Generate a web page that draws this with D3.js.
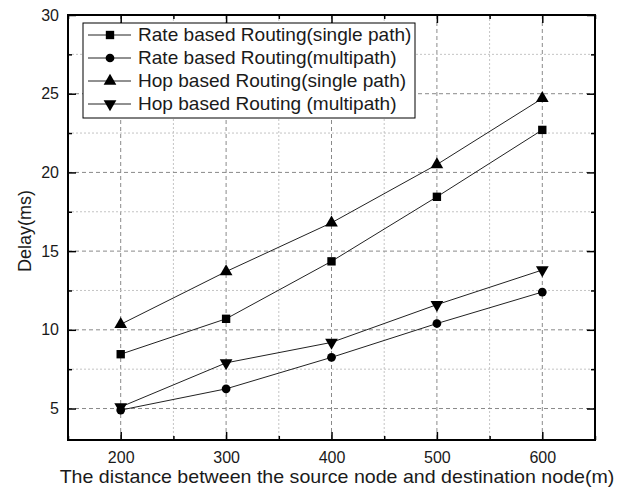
<!DOCTYPE html>
<html>
<head>
<meta charset="utf-8">
<script src="https://cdn.jsdelivr.net/npm/d3@7"></script>
<style>
  html, body { margin: 0; padding: 0; background: #fff; }
  svg { display: block; }
  text { font-family: "Liberation Sans", Arial, sans-serif; fill: #1a1a1a; }
</style>
</head>
<body>
<svg id="chart" width="619" height="493"></svg>
<script>
// ---- data ----
const distances = [200, 300, 400, 500, 600];
const seriesNames = [
  "Rate based Routing(single path)",
  "Rate based Routing(multipath)",
  "Hop based Routing(single path)",
  "Hop based Routing (multipath)"
];
const rateSingle = [8.45, 10.7, 14.35, 18.45, 22.7];
const rateMulti  = [4.9, 6.25, 8.25, 10.4, 12.4];
const hopSingle  = [10.35, 13.7, 16.8, 20.5, 24.7];
const hopMulti   = [5.1, 7.9, 9.2, 11.6, 13.8];
const markerKinds = ["square", "circle", "triangle", "triangleDown"];
const xTickLabels = [200, 300, 400, 500, 600];
const yTickLabels = [5, 10, 15, 20, 25, 30];
const xMinorTicks = [150, 250, 350, 450, 550, 650];
const yMinorTicks = [7.5, 12.5, 17.5, 22.5, 27.5];
const xTitle = "The distance between the source node and destination node(m)";
const yTitle = "Delay(ms)";

const seriesValues = [rateSingle, rateMulti, hopSingle, hopMulti];

// ---- layout ----
const svg = d3.select("#chart");
const L = 68, R = 595, T = 15, B = 440;
const x = d3.scaleLinear().domain([150, 650]).range([L, R]);
const y = d3.scaleLinear().domain([3, 30]).range([B, T]);

// grid
const grid = svg.append("g");
grid.selectAll(".gxMaj").data(xTickLabels).enter().append("line")
  .attr("x1", d => x(d)).attr("x2", d => x(d)).attr("y1", T).attr("y2", B)
  .attr("stroke", "#8a8a8a").attr("stroke-width", 1).attr("stroke-dasharray", "4,3");
grid.selectAll(".gxMin").data(xMinorTicks.filter(d => d > 150 && d < 650)).enter().append("line")
  .attr("x1", d => x(d)).attr("x2", d => x(d)).attr("y1", T).attr("y2", B)
  .attr("stroke", "#c4c4c4").attr("stroke-width", 1).attr("stroke-dasharray", "2,2");
grid.selectAll(".gyMaj").data(yTickLabels.filter(d => d < 30)).enter().append("line")
  .attr("y1", d => y(d)).attr("y2", d => y(d)).attr("x1", L).attr("x2", R)
  .attr("stroke", "#8a8a8a").attr("stroke-width", 1).attr("stroke-dasharray", "4,3");
grid.selectAll(".gyMin").data(yMinorTicks).enter().append("line")
  .attr("y1", d => y(d)).attr("y2", d => y(d)).attr("x1", L).attr("x2", R)
  .attr("stroke", "#c4c4c4").attr("stroke-width", 1).attr("stroke-dasharray", "2,2");

// axes (inward ticks)
function addAxis(axis, tr, labels) {
  const g = svg.append("g").attr("transform", tr).call(axis);
  g.select(".domain").remove();
  g.selectAll("line").attr("stroke", "#000").attr("stroke-width", 1.5);
  g.selectAll("text").style("font-size", "16px").attr("fill", "#222");
  if (!labels) g.selectAll("text").remove();
  return g;
}
// major
addAxis(d3.axisBottom(x).tickValues(xTickLabels).tickSizeInner(-8).tickSizeOuter(0).tickPadding(12).tickFormat(d3.format("d")),
  `translate(0,${B})`, true);
addAxis(d3.axisTop(x).tickValues(xTickLabels).tickSizeInner(-8).tickSizeOuter(0),
  `translate(0,${T})`, false);
addAxis(d3.axisLeft(y).tickValues(yTickLabels).tickSizeInner(-8).tickSizeOuter(0).tickPadding(9).tickFormat(d3.format("d")),
  `translate(${L},0)`, true);
addAxis(d3.axisRight(y).tickValues(yTickLabels).tickSizeInner(-8).tickSizeOuter(0),
  `translate(${R},0)`, false);
// minor
addAxis(d3.axisBottom(x).tickValues(xMinorTicks).tickSizeInner(-4).tickSizeOuter(0), `translate(0,${B})`, false);
addAxis(d3.axisTop(x).tickValues(xMinorTicks).tickSizeInner(-4).tickSizeOuter(0), `translate(0,${T})`, false);
addAxis(d3.axisLeft(y).tickValues(yMinorTicks).tickSizeInner(-4).tickSizeOuter(0), `translate(${L},0)`, false);
addAxis(d3.axisRight(y).tickValues(yMinorTicks).tickSizeInner(-4).tickSizeOuter(0), `translate(${R},0)`, false);

// frame
svg.append("rect").attr("x", L).attr("y", T).attr("width", R - L).attr("height", B - T)
  .attr("fill", "none").attr("stroke", "#000").attr("stroke-width", 2);

// symbols
function symbolPath(kind) {
  if (kind === "square") return d3.symbol(d3.symbolSquare, 70)();
  if (kind === "circle") return d3.symbol(d3.symbolCircle, 60)();
  return d3.symbol(d3.symbolTriangle, 70)();
}
function symTransform(kind, cx, cy) {
  return kind === "triangleDown" ? `translate(${cx},${cy}) rotate(180)` : `translate(${cx},${cy})`;
}

const line = d3.line().x((d, i) => x(distances[i])).y(d => y(d));
seriesValues.forEach((vals, si) => {
  svg.append("path").datum(vals).attr("d", line)
    .attr("fill", "none").attr("stroke", "#222").attr("stroke-width", 1);
  svg.selectAll(null).data(vals).enter().append("path")
    .attr("d", symbolPath(markerKinds[si]))
    .attr("transform", (d, i) => symTransform(markerKinds[si], x(distances[i]), y(d)))
    .attr("fill", "#000");
});

// legend
const lg = svg.append("g");
lg.append("rect").attr("x", 83).attr("y", 23).attr("width", 332).attr("height", 95)
  .attr("fill", "#fff").attr("stroke", "#000").attr("stroke-width", 1);
seriesNames.forEach((name, i) => {
  const cy = 35 + i * 23;
  lg.append("line").attr("x1", 88).attr("x2", 131).attr("y1", cy).attr("y2", cy)
    .attr("stroke", "#222").attr("stroke-width", 1);
  lg.append("path").attr("d", symbolPath(markerKinds[i]))
    .attr("transform", symTransform(markerKinds[i], 110, cy)).attr("fill", "#000");
  lg.append("text").attr("transform", `translate(138,${cy}) scale(1.06,1)`).attr("dy", "0.35em")
    .style("font-size", "18px").text(name);
});

// axis titles
svg.append("text").attr("transform", "translate(337,477) scale(1.09,1)").attr("dy", "0.35em")
  .attr("text-anchor", "middle").style("font-size", "18px").text(xTitle);
svg.append("text").attr("transform", "translate(25,231) rotate(-90)").attr("dy", "0.35em")
  .attr("text-anchor", "middle").style("font-size", "18px").text(yTitle);
</script>
</body>
</html>
